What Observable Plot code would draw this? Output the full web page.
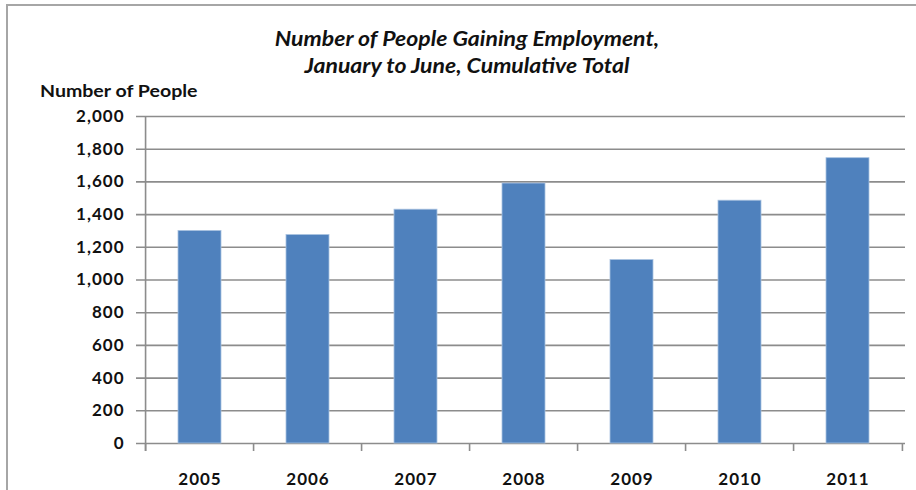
<!DOCTYPE html>
<html>
<head>
<meta charset="utf-8">
<script src="https://cdn.jsdelivr.net/npm/d3@7"></script>
<script src="https://cdn.jsdelivr.net/npm/@observablehq/plot@0.6"></script>
<style>
  html, body { margin: 0; padding: 0; background: #fff; }
  #wrap { position: relative; width: 916px; height: 490px; overflow: hidden; font-family: Lato, "Open Sans", sans-serif; }
  #frame { position: absolute; left: 6px; top: 4px; width: 1000px; height: 1000px; border-left: 2px solid #a6a6a6; border-top: 2px solid #a6a6a6; box-sizing: border-box; }
  .title { position: absolute; left: 0; width: 934px; text-align: center; font-weight: bold; font-style: italic; font-size: 20px; color: #111; white-space: nowrap; transform: scaleX(1.15); transform-origin: 467px 0; }
  #ylab { position: absolute; left: 40px; top: 80px; font-weight: bold; font-size: 17px; color: #111; white-space: nowrap; transform: scaleX(1.15); transform-origin: 0 0; }
  #chart { position: absolute; left: 0; top: 0; }
</style>
</head>
<body>
<div id="wrap">
  <div id="frame"></div>
  <div class="title" style="top:26px">Number of People Gaining Employment,</div>
  <div class="title" style="top:53px">January to June, Cumulative Total</div>
  <div id="ylab">Number of People</div>
  <div id="chart"></div>
</div>
<script>
const years = ["2005", "2006", "2007", "2008", "2009", "2010", "2011"];
const people = [1300, 1275, 1430, 1590, 1122, 1485, 1745];
const yTicks = [0, 200, 400, 600, 800, 1000, 1200, 1400, 1600, 1800, 2000];

const data = years.map((y, i) => ({year: y, value: people[i]}));

const W = 916, H = 490;
const mL = 143, mR = 11, mT = 116, mB = 47;
const step = (W - mL - mR) / years.length;
const grid = "#8c8c8c";

const chart = Plot.plot({
  width: W,
  height: H,
  marginLeft: mL,
  marginRight: mR,
  marginTop: mT,
  marginBottom: mB,
  style: {fontFamily: "Lato, 'Open Sans', sans-serif", fontWeight: "bold", fontSize: "17px", letterSpacing: "1px", color: "#111", background: "transparent", overflow: "visible"},
  x: {domain: years, paddingInner: 0.6, paddingOuter: 0.3, tickSize: 0, tickPadding: 29, label: null},
  y: {domain: [0, 2000], ticks: yTicks, tickSize: 0, tickPadding: 19, label: null, tickFormat: d => d3.format(",")(d)},
  marks: [
    Plot.ruleY(yTicks, {stroke: grid, strokeWidth: 1.6, insetLeft: -7}),
    Plot.ruleX([years[0]], {dx: -step / 2, y1: 2000, y2: 0, insetBottom: -8, stroke: grid, strokeWidth: 1.6}),
    Plot.ruleX(years, {dx: -step / 2, y1: 0, y2: 0, insetBottom: -8, stroke: grid, strokeWidth: 1.6}),
    Plot.ruleX([years[years.length - 1]], {dx: step / 2, y1: 0, y2: 0, insetBottom: -8, stroke: grid, strokeWidth: 1.6}),
    Plot.barY(data, {x: "year", y: "value", fill: "#4f81bd", stroke: "#a9c2e0", strokeWidth: 0.8})
  ]
});
document.getElementById("chart").appendChild(chart);
</script>
</body>
</html>
